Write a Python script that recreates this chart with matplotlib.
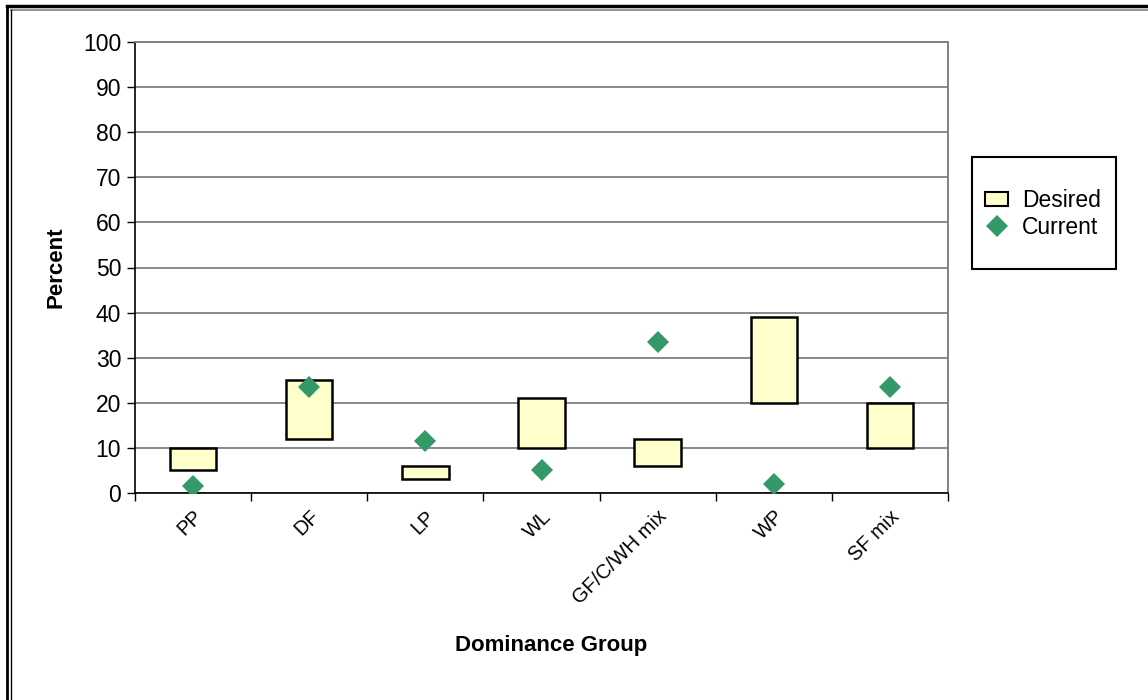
import matplotlib
matplotlib.use("Agg")
import matplotlib.pyplot as plt
from matplotlib.patches import Rectangle
from matplotlib.lines import Line2D
import numpy as np

plt.rcParams['font.family'] = ['Liberation Sans', 'DejaVu Sans']

groups = ["PP", "DF", "LP", "WL", "GF/C/WH mix", "WP", "SF mix"]
desired_low = [5, 12, 3, 10, 6, 20, 10]
desired_high = [10, 25, 6, 21, 12, 39, 20]
current = [1.5, 23.5, 11.5, 5, 33.5, 2, 23.5]
y_ticks = list(range(0, 101, 10))

fig = plt.figure(figsize=(11.48, 7.0), dpi=100)
ax = fig.add_axes([135 / 1148, 1 - 493 / 700, (948 - 135) / 1148, (493 - 42) / 700])

x = np.arange(len(groups))
heights = [h - l for l, h in zip(desired_low, desired_high)]
ax.bar(x, heights, bottom=desired_low, width=0.4, color="#FFFFCC",
       edgecolor="black", linewidth=1.8, zorder=3)
ax.plot(x, current, linestyle="none", marker="D", markersize=11,
        color="#339966", markeredgewidth=0, zorder=4)

ax.set_xlim(-0.5, len(groups) - 0.5)
ax.set_ylim(0, 100)
ax.set_yticks(y_ticks)
ax.tick_params(axis="y", direction="out", length=6, width=1, labelsize=16.5, pad=4)
ax.yaxis.grid(True, color="#808080", linewidth=1.3)
ax.set_axisbelow(True)

ax.set_xticks(x)
ax.set_xticklabels(groups, rotation=45, ha="right", rotation_mode="anchor", fontsize=14.5)
ax.tick_params(axis="x", which="major", length=0, pad=10)
ax.set_xticks(np.arange(-0.5, len(groups), 1.0), minor=True)
ax.tick_params(axis="x", which="minor", direction="out", length=6, width=1, color="black")

for side in ("left", "bottom"):
    ax.spines[side].set_color("black")
    ax.spines[side].set_linewidth(1.2)
for side in ("top", "right"):
    ax.spines[side].set_color("#808080")
    ax.spines[side].set_linewidth(1.4)

ax.set_ylabel("Percent", fontsize=16, fontweight="bold", labelpad=12)
fig.text(551 / 1148, 1 - 646 / 700, "Dominance Group", fontsize=16,
         fontweight="bold", ha="center", va="center")

# legend frame and entries
fig.patches.append(Rectangle((972 / 1148, 1 - 269 / 700), 144 / 1148, 112 / 700,
                             transform=fig.transFigure, facecolor="white",
                             edgecolor="black", linewidth=1.5))
handles = [Rectangle((0, 0), 1, 1, facecolor="#FFFFCC", edgecolor="black", linewidth=1.5),
           Line2D([], [], linestyle="none", marker="D", markersize=11,
                  color="#339966", markeredgewidth=0)]
fig.legend(handles, ["Desired", "Current"], loc="center",
           bbox_to_anchor=(1043 / 1148, 1 - 214 / 700), frameon=False,
           fontsize=16.5, handlelength=1.0, handleheight=0.6,
           handletextpad=0.6, labelspacing=0.15, borderpad=0)

# outer frame (top and left edges)
fig.add_artist(Line2D([7 / 1148, 1], [1 - 6 / 700, 1 - 6 / 700],
                      transform=fig.transFigure, color="black", linewidth=2.5))
fig.add_artist(Line2D([11 / 1148, 1], [1 - 10 / 700, 1 - 10 / 700],
                      transform=fig.transFigure, color="#808080", linewidth=1.2))
fig.add_artist(Line2D([7 / 1148, 7 / 1148], [0, 1 - 6 / 700],
                      transform=fig.transFigure, color="black", linewidth=2.0))
fig.add_artist(Line2D([11 / 1148, 11 / 1148], [0, 1 - 10 / 700],
                      transform=fig.transFigure, color="black", linewidth=1.0))

fig.savefig("out.png", dpi=100)
